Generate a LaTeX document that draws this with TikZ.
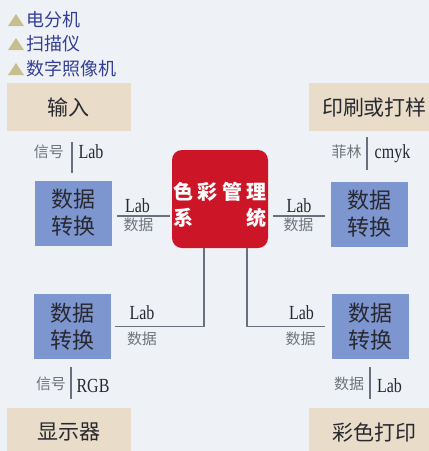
\documentclass[tikz,border=0pt]{standalone}
\usepackage{fontspec}
\newfontfamily\cjk{Noto Sans CJK SC}
\newfontfamily\latn[FakeStretch=0.8]{Liberation Serif}
\usetikzlibrary{positioning}
\definecolor{paper}{RGB}{238,242,246}
\definecolor{beige}{RGB}{233,221,201}
\definecolor{convblue}{RGB}{126,150,208}
\definecolor{cmsred}{RGB}{204,22,40}
\definecolor{legblue}{RGB}{52,62,150}
\definecolor{legtri}{RGB}{198,190,140}
\definecolor{wirecol}{RGB}{105,112,125}
\definecolor{darktext}{RGB}{40,40,48}
\definecolor{greytext}{RGB}{110,115,125}

\begin{document}
\begin{tikzpicture}[x=1pt, y=-1pt,
                device/.style={fill=beige, minimum height=48pt, inner sep=0pt, text=darktext,
                    font=\cjk\fontsize{21}{24}\selectfont},
                convert/.style={fill=convblue, minimum width=77pt, minimum height=65pt, inner sep=0pt,
                    align=center, text=darktext, font=\cjk\fontsize{22}{27}\selectfont},
                wire/.style={draw=wirecol, line width=1.2pt},
                lab/.style={anchor=base, inner sep=0pt, text=darktext, font=\latn\fontsize{20}{22}\selectfont},
                tag/.style={inner sep=0pt, text=greytext, font=\cjk\fontsize{15}{17}\selectfont}]

                % Page
                \useasboundingbox (0,0) rectangle (429,451);
                \clip (0,0) rectangle (429,451);
                \fill[paper] (0,0) rectangle (429,451);

                % Legend
                \foreach \name/\y [count=\i] in {电分机/20, 扫描仪/44, 数字照像机/69} {
                    \fill[legtri] (8,\y+6) -- (16,\y-6) -- (24,\y+6) -- cycle;
                    \node[anchor=west, inner sep=0pt, text=legblue, font=\cjk\fontsize{18}{20}\selectfont]
                        (leg\i) at (26,\y) {\name};
                }

                % Devices
                \node[device, minimum width=124pt] (input) at (69,107) {输入};
                \node[device, minimum width=131pt] (print) at (374.5,107) {印刷或打样};
                \node[device, minimum width=124pt] (display) at (69,432) {显示器};
                \node[device, minimum width=131pt] (colorprint) at (374.5,432) {彩色打印};

                % Conversions
                \node[convert] (conv1) at (73.5,213) {数据\\转换};
                \node[convert] (conv2) at (369.5,214) {数据\\转换};
                \node[convert] (conv3) at (72,326.5) {数据\\转换};
                \node[convert] (conv4) at (370,326.5) {数据\\转换};

                % Colour management system
                \node[fill=cmsred, rounded corners=10pt, minimum width=96pt, minimum height=98pt] (cms) at (220,199) {};
                \node[text=white, align=center, font=\cjk\bfseries\fontsize{20}{26}\selectfont]
                    (cmstext) at (220,205) {\hbox to 94pt{色\hfill 彩\hfill 管\hfill 理}\\
                                            \hbox to 94pt{系\hfill 统}};

                % Signal lines
                \coordinate (s1t) at (72,142);  \coordinate (s1b) at (72,173);
                \coordinate (s2t) at (367,137); \coordinate (s2b) at (367,170);
                \coordinate (s3t) at (71,367);  \coordinate (s3b) at (71,399);
                \coordinate (s4t) at (370,367); \coordinate (s4b) at (370,399);
                \draw[wire] (s1t) -- (s1b);
                \draw[wire] (s2t) -- (s2b);
                \draw[wire] (s3t) -- (s3b);
                \draw[wire] (s4t) -- (s4b);

                \node[tag] (t1) at (49,152) {信号};  \node[lab] (l1) at (91,158) {Lab};
                \node[tag] (t2) at (346.5,152) {菲林}; \node[lab] (l2) at (392.5,158) {cmyk};
                \node[tag] (t3) at (51,384) {信号};  \node[lab] (l3) at (93,392) {RGB};
                \node[tag] (t4) at (349,384) {数据}; \node[lab] (l4) at (389.5,392) {Lab};

                % Data links
                \coordinate (j1) at (170,216);
                \coordinate (j2) at (273,216);
                \draw[wire] ([xshift=5pt,yshift=-3pt]conv1.east) -- (j1);
                \draw[wire] (j2) -- ([xshift=-6pt,yshift=-2pt]conv2.west);
                \draw[wire] ([xshift=-16pt]cms.south) |- ([xshift=4pt]conv3.east);
                \draw[wire] ([xshift=27pt]cms.south) |- ([xshift=-6pt]conv4.west);

                \node[lab] (m1) at (137.5,212) {Lab}; \node[tag] (n1) at (138.5,225) {数据};
                \node[lab] (m2) at (299,212) {Lab};   \node[tag] (n2) at (298.5,225) {数据};
                \node[lab] (m3) at (142,319) {Lab};   \node[tag] (n3) at (142,339) {数据};
                \node[lab] (m4) at (301.5,319) {Lab}; \node[tag] (n4) at (300.5,339) {数据};
\end{tikzpicture}
\end{document}
